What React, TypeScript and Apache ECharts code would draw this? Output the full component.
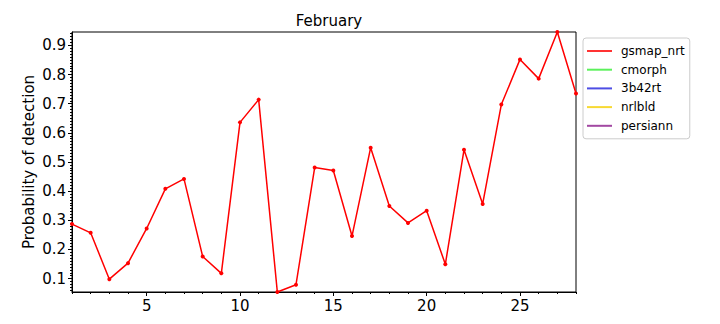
import React, { useEffect, useRef } from "react";
import * as echarts from "echarts";

const days = [1,2,3,4,5,6,7,8,9,10,11,12,13,14,15,16,17,18,19,20,21,22,23,24,25,26,27,28];
const gsmapNrt = [0.287,0.257,0.098,0.153,0.272,0.408,0.442,0.176,0.118,0.636,0.714,0.054,0.079,0.481,0.471,0.246,0.549,0.349,0.291,0.333,0.149,0.542,0.356,0.697,0.852,0.786,0.946,0.735];
const seriesNames = ["gsmap_nrt","cmorph","3b42rt","nrlbld","persiann"];
const seriesColors = ["#ff0000","#33ee33","#2222dd","#f5d000","#8b1a8b"];
const yTickLabels = [0.1,0.2,0.3,0.4,0.5,0.6,0.7,0.8,0.9];
const xTickLabels = [5,10,15,20,25];
const yMin = 0.054;
const yMax = 0.946;

export default function App() {
  const ref = useRef<HTMLDivElement>(null);
  useEffect(() => {
    if (!ref.current) return;
    const chart = echarts.init(ref.current, null, { renderer: "svg" });
    const yMinor: number[] = [];
    for (let i = 6; i <= 94; i++) yMinor.push(i / 100);
    const xMinor = days.slice();
    const font = "DejaVu Sans";
    const series: any[] = seriesNames.map((name, i) => ({
      name,
      type: "line",
      xAxisIndex: 0,
      yAxisIndex: 0,
      data: i === 0 ? days.map((d, j) => [d, gsmapNrt[j]]) : [],
      symbol: "circle",
      symbolSize: 4,
      showSymbol: true,
      lineStyle: { color: seriesColors[i], width: 1.5 },
      itemStyle: { color: seriesColors[i] },
      color: seriesColors[i],
    }));
    chart.setOption({
      animation: false,
      backgroundColor: "#fff",
      title: {
        text: "February",
        left: 324,
        top: 8,
        textAlign: "center",
        textStyle: { fontFamily: font, fontSize: 15, fontWeight: "normal", color: "#000" },
      },
      grid: {
        left: 72, right: 144, top: 32, bottom: 32,
        show: true, borderColor: "#000", borderWidth: 1, backgroundColor: "transparent",
      },
      legend: {
        orient: "vertical",
        left: 583,
        top: 38,
        padding: [7, 5, 7, 4],
        itemGap: 6.7,
        itemWidth: 25,
        itemHeight: 2,
        icon: "rect",
        borderColor: "#ccc",
        borderWidth: 1,
        borderRadius: 3,
        textStyle: { fontFamily: font, fontSize: 12, color: "#000", padding: [0, 0, 0, 4] },
        data: seriesNames.map((n, i) => ({ name: n, itemStyle: { color: seriesColors[i], opacity: 0.8 } })),
      },
      xAxis: [
        {
          type: "value", min: 1, max: 28, position: "bottom",
          axisLine: { show: true, lineStyle: { color: "#000", width: 1 } },
          axisTick: { show: true, customValues: xTickLabels, length: 4, lineStyle: { color: "#000" } },
          axisLabel: { customValues: xTickLabels, fontFamily: font, fontSize: 15, color: "#000", margin: 6 },
          splitLine: { show: false },
        },
        {
          type: "value", min: 1, max: 28, position: "bottom",
          axisLine: { show: false },
          axisTick: { show: true, customValues: xMinor, length: 2, lineStyle: { color: "#000" } },
          axisLabel: { show: false },
          splitLine: { show: false },
        },
      ],
      yAxis: [
        {
          type: "value", min: yMin, max: yMax, position: "left",
          name: "Probability of detection",
          nameLocation: "middle",
          nameGap: 36,
          nameMoveOverlap: false,
          nameTextStyle: { fontFamily: font, fontSize: 15, color: "#000" },
          axisLine: { show: true, lineStyle: { color: "#000", width: 1 } },
          axisTick: { show: true, customValues: yTickLabels, length: 4, lineStyle: { color: "#000" } },
          axisLabel: {
            customValues: yTickLabels, fontFamily: font, fontSize: 15, color: "#000", margin: 6,
            formatter: (v: number) => v.toFixed(1),
          },
          splitLine: { show: false },
        },
        {
          type: "value", min: yMin, max: yMax, position: "left",
          axisLine: { show: false },
          axisTick: { show: true, customValues: yMinor, length: 2, lineStyle: { color: "#000" } },
          axisLabel: { show: false },
          splitLine: { show: false },
        },
      ],
      series,
    });
    return () => chart.dispose();
  }, []);
  return <div ref={ref} style={{ width: 720, height: 324, position: "absolute", left: 0, top: 0 }} />;
}
